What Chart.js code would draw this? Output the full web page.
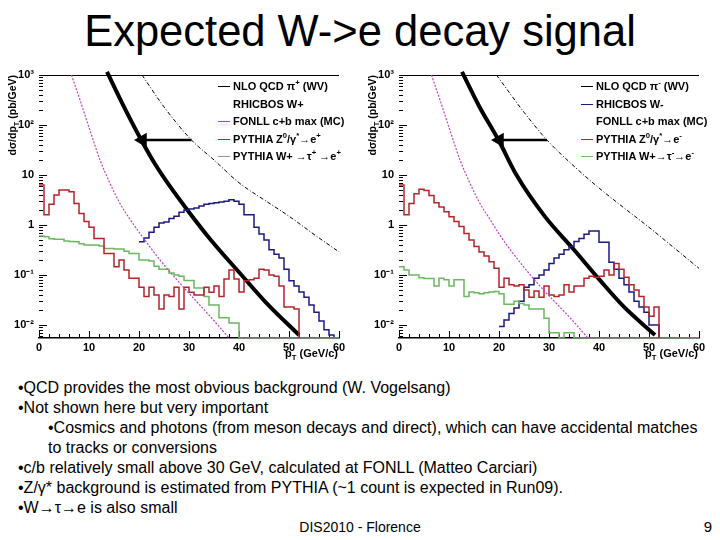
<!DOCTYPE html>
<html lang="en">
<head>
<meta charset="UTF-8">
<title>Expected W->e decay signal</title>
<script src="https://cdn.jsdelivr.net/npm/chart.js"></script>
<style>
  body { margin: 0; width: 720px; height: 540px; position: relative; overflow: hidden; background: #fff;
         font-family: "Liberation Sans", Arial, sans-serif; color: #000; }
  h1 { position: absolute; left: 0; top: 6px; width: 720px; margin: 0; text-align: center;
       font-weight: normal; font-size: 43.5px; line-height: 50px; }
  canvas { position: absolute; top: 60px; }
  .ytitle { position: absolute; width: 100px; top: 175px; text-align: right; white-space: nowrap;
            transform-origin: 0 0; transform: rotate(-90deg); font: bold 10.5px/12px "Liberation Sans", Arial; }
  .xtitle { position: absolute; top: 347px; width: 100px; text-align: right; font: bold 11px/12px "Liberation Sans", Arial; }
  .legend { position: absolute; top: 78px; font: bold 11px "Liberation Sans", Arial; }
  .legend div { position: relative; height: 17.5px; line-height: 17.5px; padding-left: 15px; white-space: nowrap; }
  .legend i { position: absolute; left: 0; top: 8px; width: 12px; border-top: 1.5px solid; }
  sup, sub { font-size: 70%; line-height: 0; }
  .notes { position: absolute; left: 18px; top: 378px; font-size: 16px; line-height: 20px; white-space: nowrap; }
  .notes .sub { padding-left: 30px; }
  .foot { position: absolute; top: 518px; font-size: 14px; line-height: 18px; }
</style>
</head>
<body>
<h1>Expected W-&gt;e decay signal</h1>

<canvas id="leftChart" width="360" height="305" style="left:0"></canvas>
<canvas id="rightChart" width="360" height="305" style="left:360px"></canvas>

<div class="ytitle" style="left:6px">d&sigma;/dp<sub>T</sub> (pb/GeV)</div>
<div class="ytitle" style="left:366px">d&sigma;/dp<sub>T</sub> (pb/GeV)</div>
<div class="xtitle" style="left:238px">p<sub>T</sub> (GeV/c)</div>
<div class="xtitle" style="left:598px">p<sub>T</sub> (GeV/c)</div>

<div class="legend" style="left:218px">
  <div><i style="border-color:#000"></i>NLO QCD &pi;<sup>+</sup> (WV)</div>
  <div>RHICBOS W+</div>
  <div><i style="border-color:#c040c0"></i>FONLL c+b max (MC)</div>
  <div><i style="border-color:#b4242a"></i>PYTHIA Z<sup>0</sup>/&gamma;<sup>*</sup>&rarr;e<sup>+</sup></div>
  <div><i style="border-color:#6cb860"></i>PYTHIA W+ &rarr;&tau;<sup>+</sup> &rarr;e<sup>+</sup></div>
</div>
<div class="legend" style="left:581px">
  <div><i style="border-color:#000"></i>NLO QCD &pi;<sup>-</sup> (WV)</div>
  <div><i style="border-color:#1a1a80"></i>RHICBOS W-</div>
  <div>FONLL c+b max (MC)</div>
  <div><i style="border-color:#b4242a"></i>PYTHIA Z<sup>0</sup>/&gamma;<sup>*</sup>&rarr;e<sup>-</sup></div>
  <div><i style="border-color:#6cb860"></i>PYTHIA W+&rarr;&tau;<sup>-</sup>&rarr;e<sup>-</sup></div>
</div>

<div class="notes">
  <div>&bull;QCD provides the most obvious background (W. Vogelsang)</div>
  <div>&bull;Not shown here but very important</div>
  <div class="sub">&bull;Cosmics and photons (from meson decays and direct), which can have accidental matches</div>
  <div class="sub">to tracks or conversions</div>
  <div>&bull;c/b relatively small above 30 GeV, calculated at FONLL (Matteo Carciari)</div>
  <div>&bull;Z/&gamma;* background is estimated from PYTHIA (~1 count is expected in Run09).</div>
  <div>&bull;W&rarr;&tau;&rarr;e is also small</div>
</div>
<div class="foot" style="left:0;width:720px;text-align:center">DIS2010 - Florence</div>
<div class="foot" style="right:8px;font-size:15px">9</div>

<script>
// axis ranges and tick labels
const X_MIN = 0, X_MAX = 60, Y_MIN = 0.0055, Y_MAX = 1000;
const xMajor = [0, 10, 20, 30, 40, 50, 60];
const yMajor = [0.01, 0.1, 1, 10, 100, 1000];
const yMajorText = ['10⁻²', '10⁻¹', '1', '10', '10²', '10³'];

// ---- left panel (W+ -> e+) ----
// histograms, 1 GeV bins, first bin edge given by *Start, 0 = empty bin
const lRedStart = 0;
const lRed = [6.3, 1.6, 2.6, 4.0, 5.0, 5.0, 4.6, 2.7, 1.7, 1.17, 0.9, 0.54, 0.54, 0.27, 0.27, 0.147, 0.2, 0.126,
  0.086, 0.086, 0.057, 0.037, 0.057, 0.04, 0.021, 0.04, 0.037, 0.057, 0.021, 0.057, 0.045, 0.04, 0.04, 0.057,
  0.045, 0.06, 0.037, 0.083, 0.126, 0.083, 0.046, 0.077, 0.08, 0.086, 0.13, 0.126, 0.1, 0.094, 0.06, 0.023, 0.023, 0.021];
const lGreenStart = 0;
const lGreen = [0.6, 0.58, 0.53, 0.52, 0.52, 0.48, 0.47, 0.46, 0.42, 0.4, 0.4, 0.4, 0.38, 0.34, 0.34, 0.33, 0.33, 0.3,
  0.27, 0.27, 0.2, 0.2, 0.19, 0.15, 0.13, 0.13, 0.11, 0.1, 0.095, 0.078, 0.078, 0.055, 0.055, 0.037, 0.025, 0.025,
  0.014, 0.014, 0.011, 0.011, 0, 0, 0, 0, 0, 0, 0, 0, 0, 0, 0, 0, 0, 0, 0, 0, 0, 0, 0, 0];
const lBlueStart = 20;
const lBlue = [0.46, 0.55, 0.72, 0.9, 1.1, 1.15, 1.35, 1.5, 1.8, 2.0, 2.1, 2.2, 2.4, 2.6, 2.7, 2.8, 2.9, 3.0, 3.2, 3.0,
  2.6, 1.6, 1.6, 0.9, 0.66, 0.5, 0.32, 0.26, 0.22, 0.13, 0.077, 0.06, 0.046, 0.036, 0.025, 0.018, 0.012, 0.008, 0.0063, 0];
// curves
const lQcdX = [13.6, 17, 20.5, 23.3, 26.2, 30.2, 34.2, 40.5, 45.5, 52];
const lQcdY = [1150, 230, 49, 16, 5.9, 1.7, 0.525, 0.1, 0.0275, 0.0063];
const lDotX = [20.6, 25, 30.5, 35, 40, 45, 50, 55, 60];
const lDotY = [1000, 230, 50, 20, 7, 3.2, 1.5, 0.65, 0.29];
const lFonllX = [6.5, 8.2, 10.2, 12.2, 14.2, 16.2, 18.2, 20.2, 24.2, 28.2, 34.2, 38.5];
const lFonllY = [1000, 316, 78, 20, 6.8, 2.7, 1.3, 0.68, 0.2, 0.068, 0.015, 0.0048];
const lArrowX = [30.5, 20.7];
const lArrowY = [50, 50];

// ---- right panel (W- -> e-) ----
const rRedStart = 0;
const rRed = [6.3, 1.6, 2.7, 4.2, 5.2, 4.9, 3.9, 2.8, 2.3, 1.85, 1.47, 1.17, 0.93, 0.68, 0.5, 0.37, 0.29, 0.24, 0.185,
  0.136, 0.057, 0.086, 0.064, 0.06, 0.064, 0.05, 0.036, 0.048, 0.036, 0.06, 0.04, 0.037, 0.04, 0.064, 0.046, 0.06,
  0.06, 0.086, 0.094, 0.09, 0.094, 0.126, 0.1, 0.17, 0.13, 0.09, 0.064, 0.05, 0.037, 0.023, 0.015, 0.023];
const rGreenStart = 0;
const rGreen = [0.147, 0.126, 0.1, 0.1, 0.088, 0.085, 0.085, 0.06, 0.086, 0.08, 0.06, 0.08, 0.08, 0.037, 0.046, 0.044,
  0.042, 0.044, 0.046, 0.047, 0.042, 0.026, 0.026, 0.03, 0.027, 0.025, 0.021, 0.021, 0.021, 0.0136, 0.007, 0.007, 0,
  0.007, 0.007, 0, 0, 0, 0, 0, 0, 0, 0, 0, 0, 0, 0, 0, 0, 0, 0, 0, 0, 0, 0, 0, 0, 0, 0, 0];
const rBlueStart = 20;
const rBlue = [0.0093, 0.0126, 0.017, 0.022, 0.03, 0.057, 0.064, 0.086, 0.1, 0.126, 0.17, 0.22, 0.26, 0.32, 0.37, 0.47,
  0.54, 0.65, 0.76, 0.76, 0.45, 0.45, 0.18, 0.13, 0.086, 0.064, 0.046, 0.03, 0.023, 0.018, 0.01, 0.01,
  0, 0, 0, 0, 0, 0, 0, 0];
const rQcdX = [12.6, 16, 19.9, 23.5, 29.2, 35, 40, 45, 51.2];
const rQcdY = [1150, 240, 50, 10, 1.47, 0.32, 0.083, 0.023, 0.0063];
const rDotX = [19.5, 25, 29.6, 35, 40, 45, 50, 55, 60];
const rDotY = [1000, 180, 50, 15, 5.5, 2.2, 0.9, 0.35, 0.136];
const rFonllX = [6.5, 8.2, 10.2, 12.2, 14.2, 16.2, 18.2, 20.2, 24.2, 28.2, 34.2, 38.3];
const rFonllY = [1000, 316, 78, 20, 6.8, 2.7, 1.3, 0.62, 0.18, 0.06, 0.014, 0.0048];
const rArrowX = [29.6, 20.1];
const rArrowY = [50, 50];

const RED = '#b4242a', GREEN = '#6cb860', BLUE = '#1a1a80', MAGENTA = '#c040c0';

// empty bins sit on the bottom of the frame, like ROOT does
const onFrame = v => (v > 0 ? v : Y_MIN);

function hist(start, vals, dropAtEnd) {
  const pts = vals.map((v, i) => ({x: start + i, y: onFrame(v)}));
  const last = vals[vals.length - 1];
  pts.push({x: start + vals.length, y: dropAtEnd ? Y_MIN : onFrame(last)});
  return pts;
}
const curve = (xs, ys) => xs.map((x, i) => ({x, y: ys[i]}));

// minor y ticks 2..9 per decade
const yTicks = [];
[0.001].concat(yMajor).forEach(d => {
  for (let k = 1; k <= 9; k++) {
    const v = d * k;
    if (v >= Y_MIN && v <= Y_MAX) yTicks.push({value: v, big: yMajor.some(m => Math.abs(m - v) < m * 1e-6)});
  }
});
const xTicks = [];
for (let v = X_MIN; v <= X_MAX; v += 2) xTicks.push({value: v, big: xMajor.includes(v)});

// ROOT-ish frame: top line and ticks pointing into the plot
const rootAxes = {
  id: 'rootAxes',
  beforeDatasetsDraw(chart) {
    const {ctx, chartArea: a} = chart;
    const x = chart.scales.x, y = chart.scales.y;
    ctx.save();
    ctx.strokeStyle = '#000';
    ctx.lineWidth = 1;
    ctx.beginPath();
    ctx.moveTo(a.left, a.top + 0.5);
    ctx.lineTo(a.right, a.top + 0.5);
    y.ticks.forEach(t => {
      const py = Math.round(y.getPixelForValue(t.value)) + 0.5;
      ctx.moveTo(a.left, py);
      ctx.lineTo(a.left + (t.big ? 8 : 4), py);
    });
    x.ticks.forEach(t => {
      const px = Math.round(x.getPixelForValue(t.value)) + 0.5;
      ctx.moveTo(px, a.bottom);
      ctx.lineTo(px, a.bottom - (t.big ? 7 : 4));
    });
    ctx.stroke();
    ctx.restore();
  }
};

function makeChart(id, p) {
  const histLine = (data, color) => ({data, borderColor: color, borderWidth: 1.5, stepped: true, pointRadius: 0});
  new Chart(document.getElementById(id), {
    type: 'line',
    data: {
      datasets: [
        {data: curve(p.dotX, p.dotY), borderColor: '#000', borderWidth: 1, borderDash: [4, 2, 1, 2],
         cubicInterpolationMode: 'monotone', pointRadius: 0},
        {data: curve(p.fonllX, p.fonllY), borderColor: MAGENTA, borderWidth: 1.2, borderDash: [2, 1.5],
         cubicInterpolationMode: 'monotone', pointRadius: 0},
        histLine(hist(p.redStart, p.red, true), RED),
        histLine(hist(p.greenStart, p.green, false), GREEN),
        histLine(hist(p.blueStart, p.blue, false), BLUE),
        {data: curve(p.qcdX, p.qcdY), borderColor: '#000', borderWidth: 4,
         cubicInterpolationMode: 'monotone', pointRadius: 0, clip: false},
        {data: curve(p.arrowX, p.arrowY), borderColor: '#000', borderWidth: 2.5,
         pointRadius: [0, 6], pointStyle: 'triangle', rotation: -90,
         pointBackgroundColor: '#000', pointBorderColor: '#000'}
      ]
    },
    options: {
      responsive: false,
      animation: false,
      devicePixelRatio: 1,
      layout: {padding: {top: 15, right: 21, left: 0, bottom: 0}},
      plugins: {legend: {display: false}, tooltip: {enabled: false}},
      scales: {
        x: {
          type: 'linear', min: X_MIN, max: X_MAX,
          afterBuildTicks: s => { s.ticks = xTicks.map(t => ({...t})); },
          afterFit: s => { s.height = 27; },
          grid: {display: true, drawOnChartArea: false, drawTicks: false},
          border: {display: true, color: '#000', width: 1.5},
          ticks: {
            autoSkip: false, maxRotation: 0, padding: 3, color: '#000',
            font: {family: '"Liberation Sans", Arial', size: 11, weight: 'bold'},
            callback: v => (xMajor.includes(v) ? String(v) : '')
          }
        },
        y: {
          type: 'logarithmic', min: Y_MIN, max: Y_MAX,
          afterBuildTicks: s => { s.ticks = yTicks.map(t => ({...t})); },
          afterFit: s => { s.width = 39; },
          grid: {display: true, drawOnChartArea: false, drawTicks: false},
          border: {display: false},
          ticks: {
            autoSkip: false, padding: 5, color: '#000',
            font: {family: '"Liberation Sans", Arial', size: 11, weight: 'bold'},
            callback: v => {
              const i = yMajor.findIndex(m => Math.abs(m - v) < m * 1e-6);
              return i >= 0 ? yMajorText[i] : '';
            }
          }
        }
      }
    },
    plugins: [rootAxes]
  });
}

makeChart('leftChart', {
  redStart: lRedStart, red: lRed, greenStart: lGreenStart, green: lGreen, blueStart: lBlueStart, blue: lBlue,
  qcdX: lQcdX, qcdY: lQcdY, dotX: lDotX, dotY: lDotY, fonllX: lFonllX, fonllY: lFonllY,
  arrowX: lArrowX, arrowY: lArrowY
});
makeChart('rightChart', {
  redStart: rRedStart, red: rRed, greenStart: rGreenStart, green: rGreen, blueStart: rBlueStart, blue: rBlue,
  qcdX: rQcdX, qcdY: rQcdY, dotX: rDotX, dotY: rDotY, fonllX: rFonllX, fonllY: rFonllY,
  arrowX: rArrowX, arrowY: rArrowY
});
</script>
</body>
</html>
